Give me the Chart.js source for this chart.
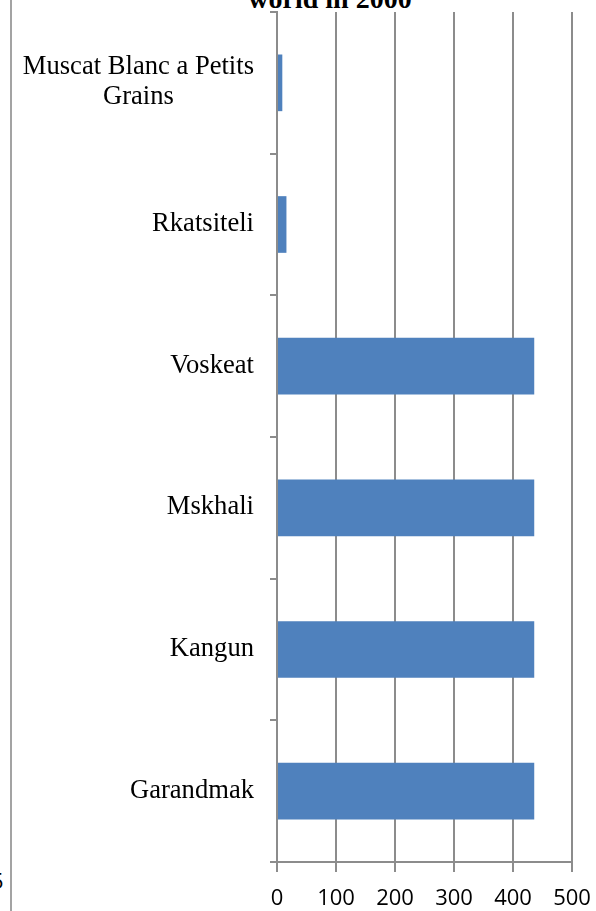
<!DOCTYPE html>
<html>
<head>
<meta charset="utf-8">
<script src="https://cdn.jsdelivr.net/npm/chart.js@4.4.1/dist/chart.umd.min.js"></script>
<style>
  html, body { margin: 0; padding: 0; background: #fff; overflow: hidden; }
  #wrap { position: relative; width: 596px; height: 911px; }
  #frame { position: absolute; left: 10px; top: 0; width: 2px; height: 911px; background: #a3a3a3; }
  #title { position: absolute; left: 130px; width: 400px; top: -15px; text-align: center;
           font-family: "Liberation Serif", serif; font-weight: bold; font-size: 28px; line-height: 28px; color: #000; white-space: nowrap; }
  #edge { position: absolute; left: -9px; top: 866px; font-family: "Open Sans", sans-serif; font-size: 22px; line-height: 28px; color: #000; }
  canvas { position: absolute; left: 0; top: 0; }
</style>
</head>
<body>
<div id="wrap">
  <div id="frame"></div>
  <div id="title">world in 2000</div>
  <div id="edge">5</div>
  <canvas id="c" width="596" height="911"></canvas>
</div>
<script>
const categories = [
  ['Muscat Blanc a Petits', 'Grains'],
  'Rkatsiteli',
  'Voskeat',
  'Mskhali',
  'Kangun',
  'Garandmak'
];
const values = [9, 16, 436, 436, 436, 436];
const xTicks = [0, 100, 200, 300, 400, 500];

const GRID = '#8c8c8c';
const SERIF = '26.6px "Liberation Serif"';
const SANS = '22px "Open Sans"';

const labelPlugin = {
  id: 'axisLabels',
  afterDraw(chart) {
    const ctx = chart.ctx;
    const ys = chart.scales.y;
    const xs = chart.scales.x;
    const area = chart.chartArea;
    const rightEdge = 254;
    const lh = 30;
    ctx.save();
    ctx.font = SERIF + ', serif';
    ctx.fillStyle = '#000';
    ctx.textBaseline = 'middle';
    ctx.textAlign = 'center';
    categories.forEach((lab, i) => {
      const lines = Array.isArray(lab) ? lab : [lab];
      const yc = ys.getPixelForValue(i);
      const maxW = Math.max(...lines.map(l => ctx.measureText(l).width));
      const cx = rightEdge - maxW / 2;
      lines.forEach((l, k) => {
        const y = yc - (lines.length - 1) * lh / 2 + k * lh - 0.5;
        ctx.fillText(l, cx, y);
      });
    });
    ctx.font = SANS + ', sans-serif';
    ctx.textBaseline = 'alphabetic';
    xTicks.forEach(v => {
      ctx.fillText(String(v), xs.getPixelForValue(v), area.bottom + 43);
    });
    ctx.restore();
  }
};

function build() {
  new Chart(document.getElementById('c'), {
    type: 'bar',
    data: {
      labels: categories,
      datasets: [{
        data: values,
        backgroundColor: '#4f81bd',
        borderWidth: 0,
        barPercentage: 0.4,
        categoryPercentage: 1.0
      }]
    },
    options: {
      indexAxis: 'y',
      responsive: false,
      animation: false,
      layout: { padding: { top: 12, right: 24, left: 0, bottom: 0 } },
      plugins: { legend: { display: false }, tooltip: { enabled: false }, title: { display: false } },
      scales: {
        x: {
          min: 0, max: 500,
          afterBuildTicks(scale) { scale.ticks = xTicks.map(v => ({ value: v })); },
          afterFit(scale) { scale.height = 49; },
          grid: { color: GRID, lineWidth: 2, drawTicks: true, tickLength: 10, tickColor: GRID },
          border: { display: true, color: GRID, width: 2 },
          ticks: { display: false }
        },
        y: {
          afterFit(scale) { scale.width = 277; },
          grid: { drawOnChartArea: false, drawTicks: true, tickLength: 7, color: GRID, lineWidth: 2, offset: true },
          border: { display: true, color: GRID, width: 2 },
          ticks: { display: false }
        }
      }
    },
    plugins: [labelPlugin]
  });
}

Promise.all([document.fonts.load(SERIF), document.fonts.load(SANS), document.fonts.load('bold 28px "Liberation Serif"')])
  .then(build, build);
</script>
</body>
</html>
